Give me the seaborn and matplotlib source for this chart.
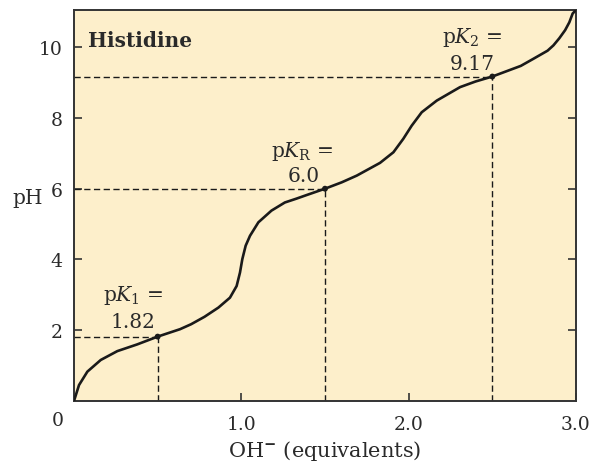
import matplotlib
matplotlib.use("Agg")
import matplotlib.pyplot as plt
import seaborn as sns
import pandas as pd

# ---- data ----
oh_equivalents = [0.0, 0.03, 0.08, 0.16, 0.259, 0.378, 0.5, 0.634, 0.7, 0.78,
                  0.863, 0.932, 0.972, 0.992, 1.006, 1.026, 1.052, 1.102, 1.18,
                  1.26, 1.33, 1.39, 1.5, 1.6, 1.69, 1.829, 1.909, 1.968, 2.018,
                  2.078, 2.168, 2.307, 2.4, 2.5, 2.67, 2.745, 2.83, 2.865, 2.9,
                  2.935, 2.96, 2.98, 3.0]
ph_values = [0.0, 0.45, 0.83, 1.16, 1.41, 1.6, 1.82, 2.03, 2.17, 2.38,
             2.64, 2.92, 3.25, 3.63, 4.01, 4.39, 4.67, 5.05, 5.38,
             5.61, 5.72, 5.82, 6.0, 6.18, 6.37, 6.73, 7.03, 7.41, 7.78,
             8.16, 8.49, 8.87, 9.03, 9.17, 9.47, 9.67, 9.9, 10.05, 10.25,
             10.48, 10.7, 10.95, 11.05]

pk_x = [0.5, 1.5, 2.5]
pk_y = [1.82, 6.0, 9.17]
pk_names = [r"p$K_1$ =", r"p$K_\mathrm{R}$ =", r"p$K_2$ ="]
pk_labels = ["1.82", "6.0", "9.17"]

y_ticks = [2, 4, 6, 8, 10]
x_ticks = [1.0, 2.0, 3.0]
x_tick_labels = ["1.0", "2.0", "3.0"]

sns.set_theme(style="ticks")
plt.rcParams["font.family"] = ["DejaVu Serif"]
plt.rcParams["mathtext.fontset"] = "dejavuserif"

text_color = "#2a2a2a"
bg = "#FDEFCB"

fig = plt.figure(figsize=(6.0, 4.64), dpi=100)
ax = fig.add_axes([0.1233, 0.1336, 0.8367, 0.8427])
ax.set_facecolor(bg)

df = pd.DataFrame({"OH": oh_equivalents, "pH": ph_values})
sns.lineplot(data=df, x="OH", y="pH", sort=False, ax=ax, color="#1a1a1a",
             linewidth=1.9, zorder=3, solid_joinstyle="round",
             solid_capstyle="round")

# dashed guides and points
for x, y in zip(pk_x, pk_y):
    ax.plot([0, x], [y, y], ls=(0, (4.5, 2.5)), color="#1a1a1a", lw=1.0, zorder=2)
    ax.plot([x, x], [0, y], ls=(0, (4.5, 2.5)), color="#1a1a1a", lw=1.0, zorder=2)
sns.scatterplot(x=pk_x, y=pk_y, ax=ax, color="#1a1a1a", s=18, zorder=4,
                edgecolor="none")

# annotations
name_pos = [(0.353, 3.02), (1.363, 7.07), (2.38, 10.3)]
val_pos = [(0.353, 2.25), (1.375, 6.38), (2.38, 9.53)]
for (nx, ny), (vx, vy), n, v in zip(name_pos, val_pos, pk_names, pk_labels):
    ax.text(nx, ny, n, ha="center", va="center", fontsize=14.5, color=text_color)
    ax.text(vx, vy, v, ha="center", va="center", fontsize=14.5, color=text_color)

ax.text(0.085, 10.2, "Histidine", ha="left", va="center", fontsize=14.5,
        fontweight="bold", color=text_color)

ax.set_xlim(0, 3.0)
ax.set_ylim(0, 11.05)
ax.set_yticks(y_ticks)
ax.set_yticklabels([str(t) for t in y_ticks])
ax.set_xticks(x_ticks)
ax.set_xticklabels(x_tick_labels)
ax.tick_params(axis="both", direction="in", length=6, width=1.2,
               colors="#333333", labelcolor=text_color, labelsize=13.5, pad=8)
ax.tick_params(axis="y", right=True)
ax.tick_params(axis="x", pad=10)

ax.annotate("0", xy=(0, 0), xycoords="data", xytext=(-16, -10),
            textcoords="offset pixels", ha="center", va="top",
            fontsize=13.5, color=text_color, annotation_clip=False)

ax.set_xlabel(r"OH$^{\mathbf{-}}$ (equivalents)", fontsize=15, color=text_color,
              labelpad=4)
ax.set_ylabel("")
fig.text(28 / 600, 1 - 198 / 464, "pH", ha="center", va="center",
         fontsize=14.5, color=text_color)

for s in ax.spines.values():
    s.set_color("#333333")
    s.set_linewidth(1.4)
    s.set_visible(True)

fig.savefig("out.png", dpi=100, facecolor="white")
